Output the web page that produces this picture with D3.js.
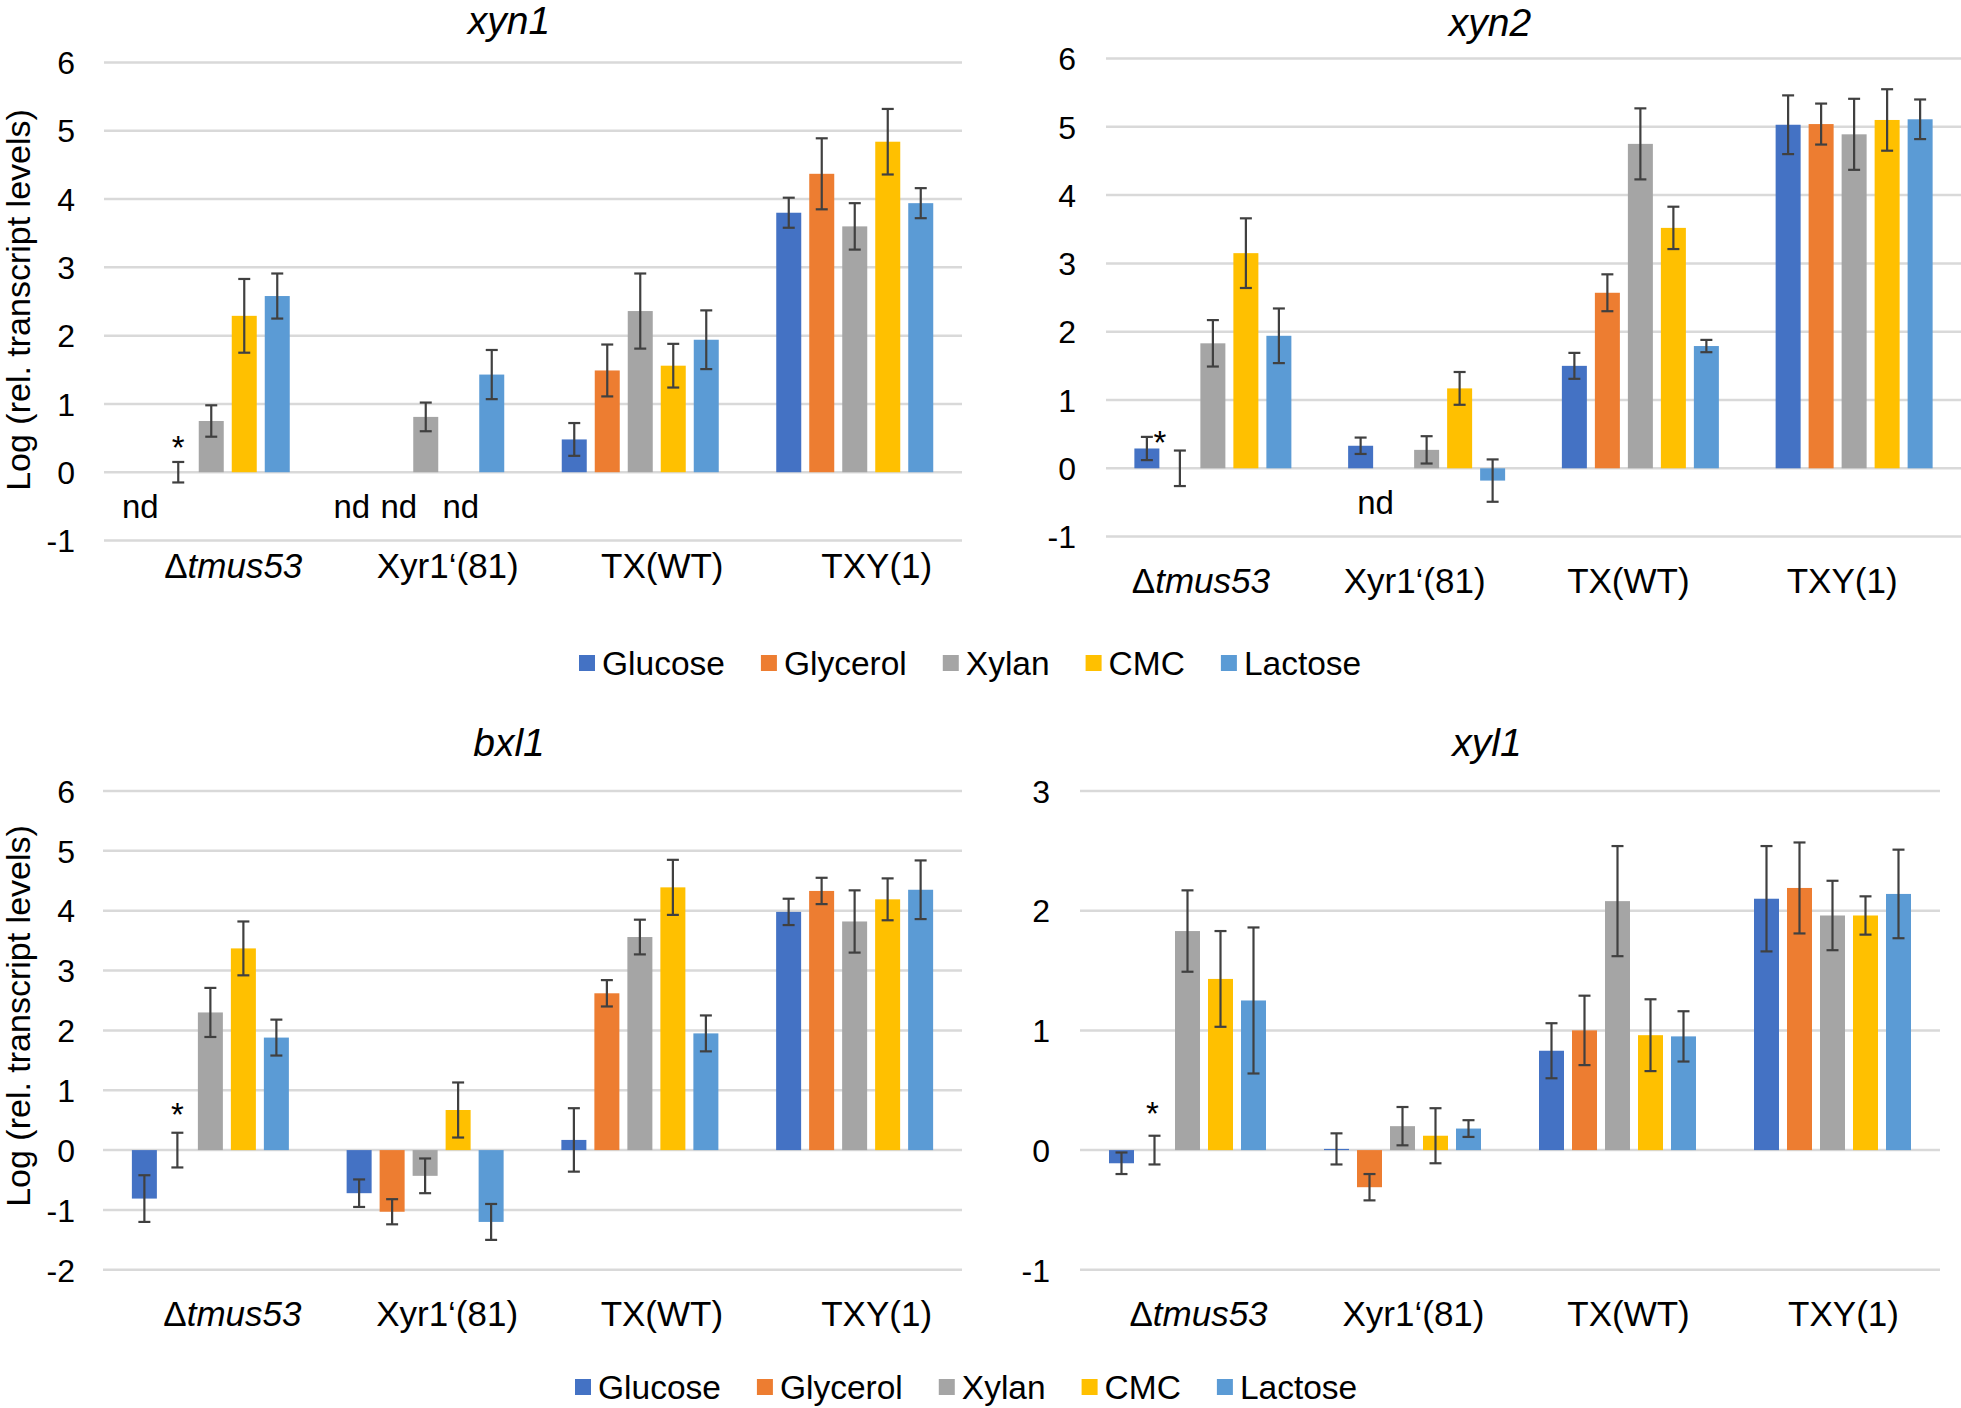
<!DOCTYPE html>
<html><head><meta charset="utf-8">
<script src="https://cdn.jsdelivr.net/npm/d3@7"></script>
<style>
body{margin:0;background:#fff}
text{font-family:"Liberation Sans",Arial,sans-serif;fill:#000}
</style>
</head><body><svg id="c" width="1961" height="1408"></svg>
<script>
const categories = ["Δtmus53","Xyr1‘(81)","TX(WT)","TXY(1)"];
const seriesNames = ["Glucose","Glycerol","Xylan","CMC","Lactose"];
const seriesColors = ["#4472C4","#ED7D31","#A5A5A5","#FFC000","#5B9BD5"];
const genes = ["xyn1","xyn2","bxl1","xyl1"];
// rows = categories, columns = series; null = not detected (nd)
const xyn1Values = [[null,0,0.75,2.29,2.58],[null,null,0.81,null,1.43],[0.48,1.49,2.36,1.56,1.94],[3.80,4.37,3.60,4.84,3.94]];
const xyn1Errors = [[null,0.15,0.23,0.54,0.33],[null,null,0.21,null,0.36],[0.24,0.38,0.55,0.32,0.43],[0.22,0.52,0.34,0.48,0.22]];
const xyn2Values = [[0.29,0,1.83,3.15,1.94],[0.33,null,0.27,1.17,-0.18],[1.50,2.57,4.75,3.52,1.79],[5.03,5.04,4.89,5.10,5.11]];
const xyn2Errors = [[0.17,0.26,0.34,0.51,0.40],[0.12,null,0.20,0.24,0.31],[0.19,0.27,0.52,0.31,0.09],[0.43,0.30,0.52,0.45,0.29]];
const bxl1Values = [[-0.81,0,2.30,3.37,1.88],[-0.72,-1.03,-0.43,0.67,-1.20],[0.17,2.62,3.56,4.39,1.95],[3.98,4.33,3.82,4.19,4.35]];
const bxl1Errors = [[0.39,0.29,0.41,0.45,0.30],[0.23,0.21,0.29,0.46,0.30],[0.53,0.22,0.29,0.46,0.30],[0.22,0.22,0.52,0.35,0.49]];
const xyl1Values = [[-0.11,0,1.83,1.43,1.25],[0.01,-0.31,0.20,0.12,0.18],[0.83,1.00,2.08,0.96,0.95],[2.10,2.19,1.96,1.96,2.14]];
const xyl1Errors = [[0.09,0.12,0.34,0.40,0.61],[0.13,0.11,0.16,0.23,0.07],[0.23,0.29,0.46,0.30,0.21],[0.44,0.38,0.29,0.16,0.37]];
const ticksXyn1 = [-1,0,1,2,3,4,5,6];
const ticksXyn2 = [-1,0,1,2,3,4,5,6];
const ticksBxl1 = [-2,-1,0,1,2,3,4,5,6];
const ticksXyl1 = [-1,0,1,2,3];
const yAxisTitle = "Log (rel. transcript levels)";
const starLabel = "*";
const ndLabel = "nd";

const svg = d3.select("#c");

const panels = [
  {gene:genes[0], values:xyn1Values, errors:xyn1Errors, ticks:ticksXyn1,
   left:104, right:962, top:62.5, bottom:540.5, titleX:509, titleY:34,
   tickRight:75, catY:578, catDx:22, star:{cat:0,ser:1,dx:0,dy:-22},
   ndDx:{"0-0":-5,"1-0":-8,"1-1":6,"1-3":2}, axisTitle:{x:30,y:300}},
  {gene:genes[1], values:xyn2Values, errors:xyn2Errors, ticks:ticksXyn2,
   left:1106, right:1961, top:58.5, bottom:536.6, titleX:1490, titleY:36,
   tickRight:1076, catY:593, catDx:-12, star:{cat:0,ser:0,dx:13,dy:-2}, ndDx:{"1-1":-18}},
  {gene:genes[2], values:bxl1Values, errors:bxl1Errors, ticks:ticksBxl1,
   left:103, right:962, top:791, bottom:1269.8, titleX:509, titleY:756,
   tickRight:75, catY:1326, catDx:22, star:{cat:0,ser:1,dx:0,dy:-26}, ndDx:{}, axisTitle:{x:30,y:1016}},
  {gene:genes[3], values:xyl1Values, errors:xyl1Errors, ticks:ticksXyl1,
   left:1080, right:1940, top:791, bottom:1269.8, titleX:1487, titleY:756,
   tickRight:1050, catY:1326, catDx:11, star:{cat:0,ser:1,dx:-2,dy:-30}, ndDx:{}}
];

const pitch = 33, barW = 25;

panels.forEach(p => {
  const g = svg.append("g");
  const ext = d3.extent(p.ticks);
  const y = d3.scaleLinear().domain(ext).range([p.bottom, p.top]);
  const x0 = d3.scaleBand().domain(categories).range([p.left, p.right]);
  const x1 = d3.scaleBand().domain(seriesNames).range([-2.5*pitch, 2.5*pitch])
      .paddingInner((pitch-barW)/pitch).paddingOuter((pitch-barW)/pitch/2);
  const cx = (ci, si) => x0(categories[ci]) + x0.bandwidth()/2 + x1(seriesNames[si]) + x1.bandwidth()/2;

  // gridlines
  g.append("g").selectAll("line").data(p.ticks).join("line")
    .attr("x1", p.left).attr("x2", p.right)
    .attr("y1", d => y(d)).attr("y2", d => y(d))
    .attr("stroke", "#D9D9D9").attr("stroke-width", 2.5);

  // y axis
  const ya = g.append("g").attr("transform", `translate(${p.tickRight},0)`)
    .call(d3.axisLeft(y).tickValues(p.ticks).tickSize(0).tickPadding(0).tickFormat(d => String(d)));
  ya.select(".domain").remove();
  ya.selectAll("text").style("font-size","32px").style("font-family",'"Liberation Sans",Arial,sans-serif').attr("fill","#000").attr("dy","0.35em");

  // bars
  const cells = [];
  p.values.forEach((row, ci) => row.forEach((v, si) => cells.push({ci, si, v, e: p.errors[ci][si]})));
  g.append("g").selectAll("rect").data(cells.filter(d => d.v !== null)).join("rect")
    .attr("x", d => cx(d.ci, d.si) - x1.bandwidth()/2)
    .attr("width", x1.bandwidth())
    .attr("y", d => Math.min(y(d.v), y(0)))
    .attr("height", d => Math.abs(y(d.v) - y(0)))
    .attr("fill", d => seriesColors[d.si]);

  // error bars
  const eb = g.append("g").attr("stroke", "#404040").attr("stroke-width", 2.2);
  cells.filter(d => d.v !== null && d.e !== null).forEach(d => {
    const X = cx(d.ci, d.si), t = y(d.v + d.e), b = y(d.v - d.e);
    eb.append("line").attr("x1", X).attr("x2", X).attr("y1", t).attr("y2", b);
    eb.append("line").attr("x1", X-6).attr("x2", X+6).attr("y1", t).attr("y2", t);
    eb.append("line").attr("x1", X-6).attr("x2", X+6).attr("y1", b).attr("y2", b);
  });

  // nd labels
  g.append("g").selectAll("text").data(cells.filter(d => d.v === null)).join("text")
    .attr("x", d => cx(d.ci, d.si) + (p.ndDx[d.ci+"-"+d.si] || 0))
    .attr("y", y(-0.5) + 12)
    .attr("text-anchor", "middle").style("font-size", "33px").text(ndLabel);

  // star
  const s = p.star, sv = p.values[s.cat][s.ser] || 0, se = p.errors[s.cat][s.ser] || 0;
  g.append("text").attr("x", cx(s.cat, s.ser) + s.dx).attr("y", y(sv + se) + s.dy + 19)
    .attr("text-anchor", "middle").style("font-size", "33px").text(starLabel);

  // category labels
  g.append("g").selectAll("text").data(categories).join("text")
    .attr("x", d => x0(d) + x0.bandwidth()/2 + p.catDx)
    .attr("y", p.catY).attr("text-anchor", "middle").style("font-size", "35px")
    .each(function(d){
      const t = d3.select(this);
      if (d.startsWith("Δ")) {
        t.append("tspan").text("Δ");
        t.append("tspan").style("font-style","italic").text(d.slice(1));
      } else t.text(d);
    });

  // title
  g.append("text").attr("x", p.titleX).attr("y", p.titleY).attr("text-anchor", "middle")
    .style("font-size", "39px").style("font-style", "italic").text(p.gene);

  // y axis title
  if (p.axisTitle) {
    g.append("text").attr("transform", `translate(${p.axisTitle.x},${p.axisTitle.y}) rotate(-90)`)
      .attr("text-anchor", "middle").style("font-size", "34px").text(yAxisTitle);
  }
});

// legends
function legend(startX, cy) {
  const lg = svg.append("g");
  let x = startX;
  seriesNames.forEach((n, i) => {
    lg.append("rect").attr("x", x).attr("y", cy - 8).attr("width", 16).attr("height", 16).attr("fill", seriesColors[i]);
    const t = lg.append("text").attr("x", x + 23).attr("y", cy).attr("dy", "0.35em").style("font-size", "33.5px").text(n);
    x += 23 + t.node().getComputedTextLength() + 36;
  });
}
legend(579, 663);
legend(575, 1387);
</script>
</body></html>
